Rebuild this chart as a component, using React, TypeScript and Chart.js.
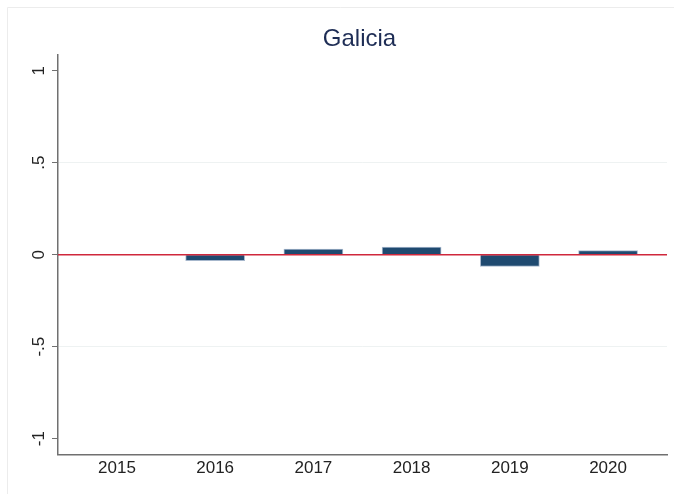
import React, { useEffect, useRef } from "react";
import { Chart, registerables } from "chart.js";

Chart.register(...registerables);

const TITLE = "Galicia";
const years = [2015, 2016, 2017, 2018, 2019, 2020];
const values = [0, -0.033, 0.031, 0.042, -0.064, 0.022];
const yTicks = [-1, -0.5, 0, 0.5, 1];
const yTickLabels = ["-1", "-.5", "0", ".5", "1"];
const X_MIN = 2014.4;
const X_MAX = 2020.6;
const Y_MIN = -1.087;
const Y_MAX = 1.087;

const FONT = "'Liberation Sans', Arial, Helvetica, sans-serif";

const frameAndLabels = {
  id: "frameAndLabels",
  beforeDraw(chart: any) {
    const ctx = chart.ctx;
    ctx.save();
    ctx.fillStyle = "#ffffff";
    ctx.fillRect(0, 0, chart.width, chart.height);
    ctx.strokeStyle = "#ececec";
    ctx.lineWidth = 1;
    ctx.beginPath();
    ctx.moveTo(7.5, chart.height);
    ctx.lineTo(7.5, 7.5);
    ctx.lineTo(chart.width, 7.5);
    ctx.stroke();
    ctx.restore();
  },
  afterDraw(chart: any) {
    const ctx = chart.ctx;
    const ys = chart.scales.y;
    ctx.save();
    ctx.fillStyle = "#222222";
    ctx.font = `17px ${FONT}`;
    ctx.textAlign = "center";
    ctx.textBaseline = "middle";
    yTicks.forEach((v, i) => {
      const py = ys.getPixelForValue(v);
      ctx.save();
      ctx.translate(39, py);
      ctx.rotate(-Math.PI / 2);
      ctx.fillText(yTickLabels[i], 0, 0);
      ctx.restore();
    });
    ctx.restore();
  },
};

export default function App() {
  const ref = useRef<HTMLCanvasElement | null>(null);
  useEffect(() => {
    document.body.style.margin = "0";
    const canvas = ref.current;
    if (!canvas) return;
    const chart = new Chart(canvas, {
      type: "bar",
      data: {
        datasets: [
          {
            type: "line",
            data: [
              { x: X_MIN, y: 0 },
              { x: X_MAX, y: 0 },
            ],
            borderColor: "#d0283c",
            borderWidth: 1.5,
            pointRadius: 0,
            order: 0,
          } as any,
          {
            type: "bar",
            data: years.map((yr, i) => ({ x: yr, y: values[i] })),
            backgroundColor: "#1f4a70",
            borderColor: "rgba(150,170,195,0.85)",
            borderWidth: 1,
            barThickness: 59,
            order: 1,
          } as any,
        ],
      },
      options: {
        animation: false,
        responsive: false,
        maintainAspectRatio: false,
        layout: { padding: { left: 52, right: 7, top: 0, bottom: 11 } },
        plugins: {
          legend: { display: false },
          tooltip: { enabled: false },
          title: {
            display: true,
            text: TITLE,
            color: "#1e2d55",
            font: { family: FONT, size: 24, weight: "normal" },
            padding: { top: 25, bottom: 1 },
          },
        },
        scales: {
          x: {
            type: "linear",
            offset: false,
            min: X_MIN,
            max: X_MAX,
            afterBuildTicks: (s: any) => {
              s.ticks = years.map((v) => ({ value: v }));
            },
            ticks: {
              color: "#222222",
              font: { family: FONT, size: 17 },
              padding: 4,
              callback: (v: any) => String(v),
              maxRotation: 0,
              autoSkip: false,
            },
            grid: { display: false, drawTicks: false, tickLength: 0, offset: false },
            border: { display: true, color: "#707070", width: 1.5 },
          },
          y: {
            type: "linear",
            min: Y_MIN,
            max: Y_MAX,
            afterBuildTicks: (s: any) => {
              s.ticks = yTicks.map((v) => ({ value: v }));
            },
            ticks: { display: false },
            grid: {
              drawTicks: true,
              tickLength: 6,
              color: (c: any) =>
                c.tick && Math.abs(Math.abs(c.tick.value) - 0.5) < 1e-6
                  ? "#eef2f2"
                  : "rgba(0,0,0,0)",
              tickColor: "#707070",
              lineWidth: 1,
            },
            border: { display: true, color: "#707070", width: 1.5 },
          },
        },
      } as any,
      plugins: [frameAndLabels],
    });
    return () => chart.destroy();
  }, []);
  return (
    <div style={{ position: "fixed", left: 0, top: 0, width: 674, height: 494 }}>
      <canvas ref={ref} width={674} height={494} style={{ width: 674, height: 494, display: "block" }} />
    </div>
  );
}
